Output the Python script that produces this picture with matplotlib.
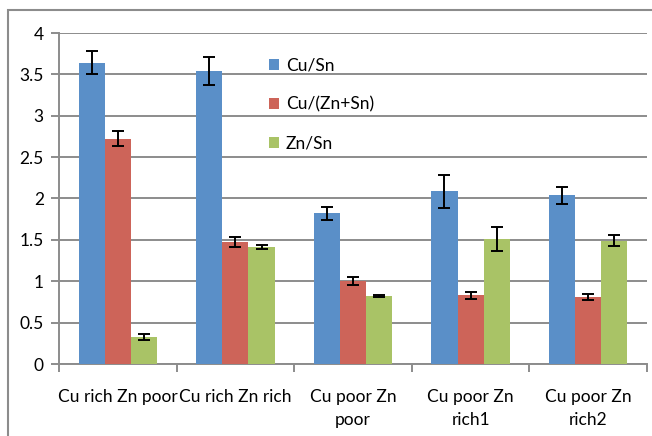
import numpy as np
import matplotlib
matplotlib.use("Agg")
import matplotlib.pyplot as plt
from matplotlib.patches import Rectangle

plt.rcParams['font.family'] = ['Lato', 'DejaVu Sans']

# values
categories = ["Cu rich Zn poor", "Cu rich Zn rich", "Cu poor Zn\npoor",
              "Cu poor Zn\nrich1", "Cu poor Zn\nrich2"]
series_names = ["Cu/Sn", "Cu/(Zn+Sn)", "Zn/Sn"]
cu_sn = [3.64, 3.54, 1.82, 2.09, 2.04]
cu_sn_err = [0.14, 0.165, 0.08, 0.2, 0.105]
cu_znsn = [2.72, 1.47, 1.00, 0.83, 0.81]
cu_znsn_err = [0.09, 0.06, 0.05, 0.04, 0.035]
zn_sn = [0.33, 1.41, 0.82, 1.51, 1.49]
zn_sn_err = [0.035, 0.025, 0.01, 0.145, 0.07]
colors = ["#5A8FC8", "#CD6459", "#A9C366"]

fig = plt.figure(figsize=(6.52, 4.36), dpi=100)
# outer chart frame (cut off at right and bottom)
fig.patches.append(Rectangle((8 / 652, -0.1), 1.2, 1 - 10 / 436 + 0.1,
                             transform=fig.transFigure, fill=False,
                             edgecolor="#8C8C8C", linewidth=1.5))
ax = fig.add_axes([59 / 652, 1 - 364 / 436, 588 / 652, 331 / 436])

x = np.arange(len(categories))
w = 0.222
data = [(cu_sn, cu_sn_err), (cu_znsn, cu_znsn_err), (zn_sn, zn_sn_err)]
for i, (vals, errs) in enumerate(data):
    ax.bar(x + (i - 1) * w, vals, w, color=colors[i], label=series_names[i],
           yerr=errs, capsize=4.5,
           error_kw=dict(ecolor="black", elinewidth=1.4, capthick=1.4),
           zorder=3)

ax.set_xlim(-0.5, len(categories) - 0.5)
ax.set_ylim(0, 4)
ax.set_yticks(np.arange(0, 4.01, 0.5))
ax.set_yticklabels(["0", "0.5", "1", "1.5", "2", "2.5", "3", "3.5", "4"])
ax.yaxis.grid(True, color="#8C8C8C", linewidth=1.4, zorder=0)
ax.set_axisbelow(True)

ax.set_xticks(x)
ax.set_xticklabels(categories, linespacing=1.55)
ax.set_xticks(np.arange(-0.5, len(categories), 1), minor=True)
ax.tick_params(axis="x", which="major", length=0, pad=18, labelsize=12.5)
ax.tick_params(axis="x", which="minor", length=6, width=1.4, color="#8C8C8C")
ax.tick_params(axis="y", length=6, width=1.4, color="#8C8C8C", labelsize=12.5,
               pad=5)

for s in ["top", "right"]:
    ax.spines[s].set_visible(False)
for s in ["left", "bottom"]:
    ax.spines[s].set_color("#8C8C8C")
    ax.spines[s].set_linewidth(1.4)

ax.legend(loc="upper left", bbox_to_anchor=(0.33, 0.972), frameon=False,
          fontsize=12.5, handlelength=0.6, handleheight=0.6,
          handletextpad=0.4, labelspacing=1.3)

fig.savefig("out.png", dpi=100)
